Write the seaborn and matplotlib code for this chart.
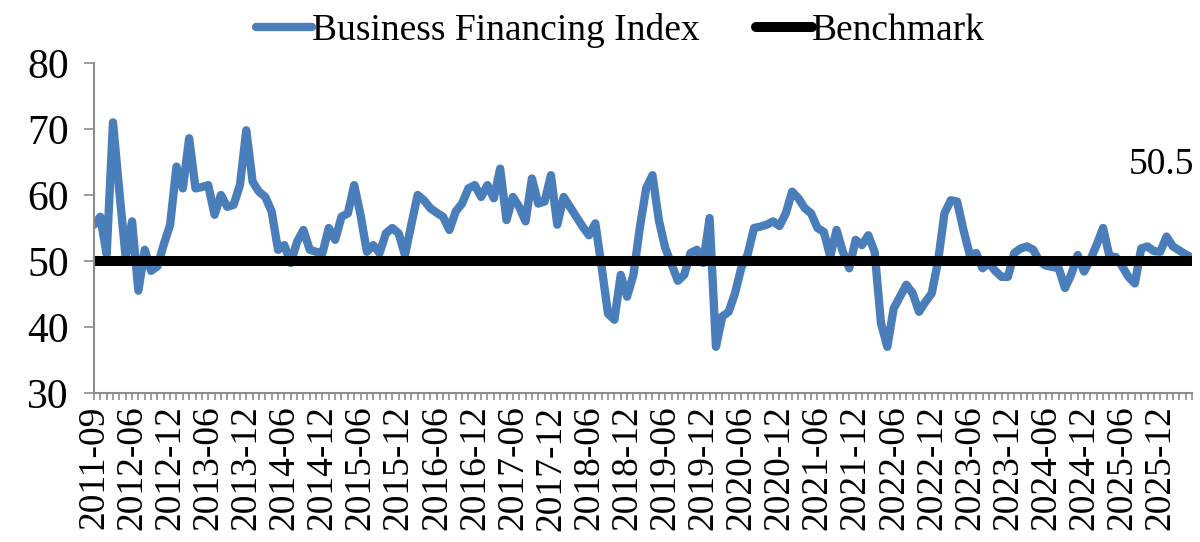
import matplotlib
matplotlib.use('Agg')
import matplotlib.pyplot as plt
import seaborn as sns
import numpy as np
import pandas as pd

# month labels: first point is 2011-09, then monthly from 2012-01
months = ['2011-09'] + list(pd.date_range('2012-01-01', '2026-05-01', freq='MS').strftime('%Y-%m'))

bfi = [55.5, 56.7, 51.0, 71.0, 60.5, 50.5, 56.0, 45.5, 51.7, 48.5,
       49.2, 52.5, 55.5, 64.3, 61.0, 68.6, 61.0, 61.2, 61.5, 57.0,
       60.0, 58.2, 58.5, 61.5, 69.8, 62.0, 60.5, 59.7, 57.5, 51.7,
       52.4, 49.7, 52.9, 54.7, 51.7, 51.4, 51.2, 55.0, 53.2, 56.7,
       57.2, 61.5, 57.0, 51.4, 52.4, 51.2, 54.2, 55.0, 54.2, 50.9,
       55.5, 60.0, 59.2, 58.0, 57.3, 56.7, 54.7, 57.5, 58.7, 61.0,
       61.5, 59.7, 61.5, 59.5, 64.0, 56.2, 59.7, 58.2, 56.0, 62.5,
       58.7, 59.0, 63.0, 55.5, 59.7, 58.2, 56.7, 55.2, 53.9, 55.7,
       49.0, 42.0, 41.1, 47.9, 44.6, 47.9, 55.0, 61.0, 63.0, 56.2,
       52.0, 49.5, 47.0, 47.9, 51.2, 51.7, 49.7, 56.5, 37.0, 41.6,
       42.3, 45.1, 49.0, 51.0, 55.0, 55.2, 55.5, 56.0, 55.3, 57.2,
       60.5, 59.5, 58.0, 57.2, 55.0, 54.4, 50.7, 54.7, 51.4, 48.9,
       53.2, 52.4, 53.9, 51.4, 40.6, 37.0, 42.8, 44.6, 46.4, 45.1,
       42.3, 43.8, 45.1, 50.0, 57.2, 59.2, 59.0, 54.7, 50.9, 51.2,
       48.9, 49.7, 48.5, 47.6, 47.6, 51.2, 51.9, 52.2, 51.7, 49.9,
       49.3, 49.1, 48.9, 45.9, 48.0, 50.9, 48.4, 50.2, 52.5, 55.0,
       50.7, 50.6, 49.2, 47.6, 46.6, 51.9, 52.2, 51.5, 51.4, 53.7,
       52.2, 51.6, 51.0, 50.5]
benchmark = [50] * len(bfi)

df = pd.DataFrame({'idx': np.arange(len(bfi)), 'Business Financing Index': bfi,
                   'Benchmark': benchmark})

sns.set_style('white')
plt.rcParams['font.family'] = ['Liberation Serif', 'DejaVu Serif']
plt.rcParams['text.color'] = 'black'

fig = plt.figure(figsize=(12, 5.42), dpi=100)
ax = fig.add_axes([0.0783, 0.2749, 0.915, 0.6089])

sns.lineplot(x='idx', y='Business Financing Index', data=df, ax=ax, color='#4A7EBB',
             linewidth=6.0, solid_capstyle='round', solid_joinstyle='round',
             label='Business Financing Index')
sns.lineplot(x='idx', y='Benchmark', data=df, ax=ax, color='black',
             linewidth=7.2, solid_capstyle='round', label='Benchmark')

ax.set_xlim(0, len(bfi) - 1)
ax.set_ylim(30, 80)
ax.set_yticks([30, 40, 50, 60, 70, 80])
ax.set_xticks(range(len(bfi)))
ax.set_xticklabels([m if i % 6 == 0 else '' for i, m in enumerate(months)], rotation=90)
ax.set_xlabel('')
ax.set_ylabel('')

for s in ['top', 'right']:
    ax.spines[s].set_visible(False)
for s in ['left', 'bottom']:
    ax.spines[s].set_color('#8c8c8c')
    ax.spines[s].set_linewidth(1.5)

ax.tick_params(axis='x', length=5, width=1.2, color='#8c8c8c', labelcolor='black',
               labelsize=27, pad=4)
ax.tick_params(axis='y', length=7, width=1.2, color='#8c8c8c', labelcolor='black',
               labelsize=30, pad=11)
ax.tick_params(bottom=True, left=True)

# last value label
ax.annotate(f'{bfi[-1]}', xy=(len(bfi) - 1, bfi[-1]), xytext=(2, 67),
            textcoords='offset points', ha='right', va='center', fontsize=27)

ax.legend(loc='upper center', bbox_to_anchor=(0.517, 1.01), bbox_transform=fig.transFigure,
          ncol=2, frameon=False, fontsize=27, handlelength=1.5, handletextpad=0.0,
          columnspacing=1.5, borderaxespad=0.1)

fig.savefig('out.png', dpi=100)
